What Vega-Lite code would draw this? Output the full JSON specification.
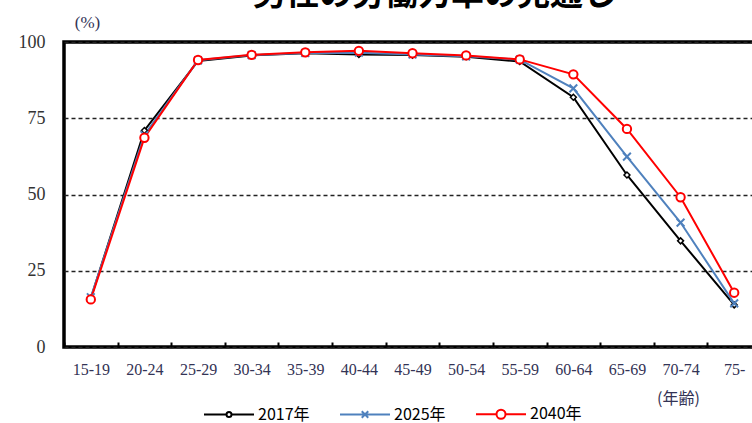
{
  "$schema": "https://vega.github.io/schema/vega-lite/v6.json",
  "autosize": "none",
  "padding": {"left": 64, "top": 42, "right": 0, "bottom": 76},
  "width": 697,
  "height": 305,
  "background": "white",
  "title": {
    "text": "男性の労働力率の見通し",
    "font": "Noto Sans CJK JP",
    "fontSize": 33,
    "fontWeight": "bold",
    "color": "#000000",
    "anchor": "middle",
    "frame": "group",
    "baseline": "alphabetic",
    "dx": 22,
    "dy": 25,
    "offset": 0
  },
  "data": {
    "values": [
      {"age": "15-19", "series": "2017年", "rate": 16.0},
      {"age": "20-24", "series": "2017年", "rate": 71.0},
      {"age": "25-29", "series": "2017年", "rate": 93.8},
      {"age": "30-34", "series": "2017年", "rate": 95.6},
      {"age": "35-39", "series": "2017年", "rate": 96.3},
      {"age": "40-44", "series": "2017年", "rate": 95.9},
      {"age": "45-49", "series": "2017年", "rate": 95.7},
      {"age": "50-54", "series": "2017年", "rate": 95.2},
      {"age": "55-59", "series": "2017年", "rate": 93.6},
      {"age": "60-64", "series": "2017年", "rate": 81.9},
      {"age": "65-69", "series": "2017年", "rate": 56.4},
      {"age": "70-74", "series": "2017年", "rate": 34.8},
      {"age": "75-", "series": "2017年", "rate": 13.8},
      {"age": "15-19", "series": "2025年", "rate": 16.3},
      {"age": "20-24", "series": "2025年", "rate": 69.5},
      {"age": "25-29", "series": "2025年", "rate": 94.0},
      {"age": "30-34", "series": "2025年", "rate": 95.7},
      {"age": "35-39", "series": "2025年", "rate": 96.4},
      {"age": "40-44", "series": "2025年", "rate": 96.5},
      {"age": "45-49", "series": "2025年", "rate": 95.9},
      {"age": "50-54", "series": "2025年", "rate": 95.3},
      {"age": "55-59", "series": "2025年", "rate": 94.2},
      {"age": "60-64", "series": "2025年", "rate": 84.8},
      {"age": "65-69", "series": "2025年", "rate": 62.4},
      {"age": "70-74", "series": "2025年", "rate": 40.8},
      {"age": "75-", "series": "2025年", "rate": 14.3},
      {"age": "15-19", "series": "2040年", "rate": 15.6},
      {"age": "20-24", "series": "2040年", "rate": 68.6},
      {"age": "25-29", "series": "2040年", "rate": 94.1},
      {"age": "30-34", "series": "2040年", "rate": 95.8},
      {"age": "35-39", "series": "2040年", "rate": 96.6},
      {"age": "40-44", "series": "2040年", "rate": 97.1},
      {"age": "45-49", "series": "2040年", "rate": 96.3},
      {"age": "50-54", "series": "2040年", "rate": 95.6},
      {"age": "55-59", "series": "2040年", "rate": 94.3},
      {"age": "60-64", "series": "2040年", "rate": 89.4},
      {"age": "65-69", "series": "2040年", "rate": 71.5},
      {"age": "70-74", "series": "2040年", "rate": 49.1},
      {"age": "75-", "series": "2040年", "rate": 17.8}
    ]
  },
  "encoding": {
    "x": {
      "field": "age",
      "type": "ordinal",
      "bandPosition": 0.5,
      "sort": ["15-19","20-24","25-29","30-34","35-39","40-44","45-49","50-54","55-59","60-64","65-69","70-74","75-"],
      "scale": {"type": "band", "paddingInner": 0, "paddingOuter": 0},
      "axis": {
        "title": "(年齢)",
        "titleFont": "Noto Sans CJK JP",
        "titleFontSize": 16,
        "titleFontWeight": "normal",
        "titleColor": "#333355",
        "titleX": 614,
        "titleY": 51,
        "titleAlign": "center",
        "titleBaseline": "middle",
        "titleAngle": 0,
        "labelAngle": 0,
        "labelFont": "Liberation Serif",
        "labelFontSize": 16,
        "labelColor": "#333355",
        "labelPadding": 19,
        "labelBaseline": "top",
        "domain": false,
        "ticks": true,
        "tickBand": "extent",
        "tickSize": -5,
        "tickWidth": 2,
        "tickColor": "#000000",
        "grid": false
      }
    },
    "y": {
      "field": "rate",
      "type": "quantitative",
      "scale": {"domain": [0, 100], "nice": false},
      "axis": {
        "values": [0, 25, 50, 75, 100],
        "title": "(%)",
        "titleFont": "Liberation Serif",
        "titleFontSize": 17,
        "titleFontWeight": "normal",
        "titleColor": "#333355",
        "titleAngle": 0,
        "titleX": 23,
        "titleY": -20,
        "titleAlign": "center",
        "titleBaseline": "middle",
        "labelFont": "Liberation Serif",
        "labelFontSize": 18,
        "labelColor": "#333333",
        "labelPadding": 19,
        "domain": false,
        "ticks": false,
        "grid": true,
        "gridColor": "#222222",
        "gridWidth": 1.5,
        "gridDash": [4, 3]
      }
    }
  },
  "layer": [
    {
      "mark": {"type": "line", "strokeWidth": 2},
      "encoding": {
        "color": {
          "field": "series",
          "type": "nominal",
          "scale": {"domain": ["2017年", "2025年", "2040年"], "range": ["#000000", "#4f81bd", "#ff0000"]},
          "legend": {
            "title": null,
            "orient": "none",
            "direction": "horizontal",
            "legendX": 157,
            "legendY": 364,
            "padding": 0,
            "columnPadding": 26,
            "symbolSize": 100,
            "symbolStrokeWidth": 2,
            "labelFont": "Noto Sans CJK JP",
            "labelFontSize": 16,
            "labelColor": "#000000",
            "labelOffset": 21,
            "labelLimit": 300,
            "encode": {
              "symbols": {
                "update": {
                  "shape": {"signal": "datum.value === '2017年' ? 'M-5,0H-0.5M0.5,0H5M-0.5,0A0.5,0.5 0 1,1 0.5,0A0.5,0.5 0 1,1 -0.5,0' : datum.value === '2025年' ? 'M-5,0H5M-0.65,-0.65L0.65,0.65M-0.65,0.65L0.65,-0.65' : 'M-5,0H-0.9M0.9,0H5M-0.9,0A0.9,0.9 0 1,1 0.9,0A0.9,0.9 0 1,1 -0.9,0'"},
                  "fill": {"value": "#ffffff"},
                  "fillOpacity": {"value": 1},
                  "strokeWidth": {"value": 2}
                }
              }
            }
          }
        }
      }
    },
    {
      "transform": [{"filter": "datum.series === '2017年'"}],
      "mark": {"type": "point", "shape": "diamond", "size": 35, "filled": true, "fill": "#ffffff", "stroke": "#000000", "strokeWidth": 1.5, "opacity": 1}
    },
    {
      "transform": [{"filter": "datum.series === '2025年'"}],
      "mark": {"type": "point", "shape": "M-1,-1L1,1M-1,1L1,-1", "size": 60, "filled": false, "stroke": "#4f81bd", "strokeWidth": 2, "opacity": 1}
    },
    {
      "transform": [{"filter": "datum.series === '2040年'"}],
      "mark": {"type": "point", "shape": "circle", "size": 70, "filled": true, "fill": "#ffffff", "stroke": "#ff0000", "strokeWidth": 2, "opacity": 1}
    }
  ],
  "config": {
    "view": {"stroke": "#000000", "strokeWidth": 3.5},
    "font": "Liberation Serif"
  }
}
